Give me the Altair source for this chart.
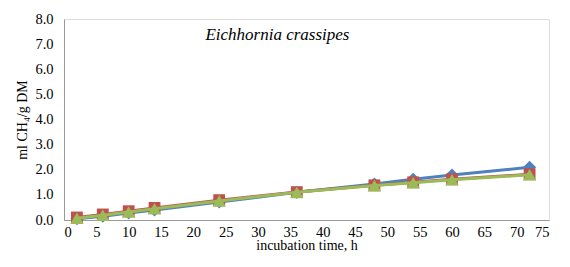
import altair as alt
import pandas as pd

times = [2, 6, 10, 14, 24, 36, 48, 54, 60, 72]
series_a = [0.05, 0.15, 0.28, 0.40, 0.72, 1.10, 1.43, 1.62, 1.79, 2.10]
series_b = [0.10, 0.22, 0.35, 0.48, 0.79, 1.11, 1.38, 1.50, 1.62, 1.82]
series_c = [0.07, 0.19, 0.32, 0.45, 0.76, 1.10, 1.37, 1.48, 1.60, 1.80]
names = ["A", "B", "C"]
colors = ["#4F81BD", "#C0504D", "#9BBB59"]
shapes = ["diamond", "square", "triangle-up"]

rows = []
for n, vals in zip(names, [series_a, series_b, series_c]):
    for t, v in zip(times, vals):
        rows.append({"t": t, "v": v, "s": n})
df = pd.DataFrame(rows)

font = "Liberation Serif"
xscale = alt.Scale(domain=[0, 75], nice=False)
yscale = alt.Scale(domain=[0, 8], nice=False)

xaxis = alt.Axis(title="incubation time, h", values=list(range(0, 80, 5)),
                 grid=False, ticks=False, domainColor="#999999",
                 labelOverlap=False, labelFont=font, titleFont=font, labelFontSize=14.5,
                 titleFontSize=14, titleFontWeight="normal",
                 labelColor="#000000", titleColor="#000000",
                 labelPadding=5, titlePadding=0)
yaxis = alt.Axis(title="ml CH₄/g DM", values=[0, 1, 2, 3, 4, 5, 6, 7, 8],
                 format=".1f", grid=False, ticks=False, domainColor="#999999",
                 labelOverlap=False, labelFont=font, titleFont=font, labelFontSize=14.5,
                 titleFontSize=14, titleFontWeight="normal",
                 labelColor="#000000", titleColor="#000000",
                 labelPadding=11, titlePadding=5)

X = alt.X("t:Q", scale=xscale, axis=xaxis)
Y = alt.Y("v:Q", scale=yscale, axis=yaxis)

layers = []
for n, c, sh, sz in zip(names, colors, shapes, [170, 140, 180]):
    base = alt.Chart(df[df.s == n])
    layers.append(base.mark_line(color=c, strokeWidth=3).encode(x=X, y=Y))
    layers.append(base.mark_point(shape=sh, filled=True, color=c, size=sz, opacity=1).encode(x=X, y=Y))

tdf = pd.DataFrame({"x": [33.0], "y": [7.37], "label": ["Eichhornia crassipes"]})
title = alt.Chart(tdf).mark_text(
    font=font, fontSize=17, fontStyle="italic", color="#000000", align="center", baseline="middle"
).encode(x=alt.X("x:Q", scale=xscale, axis=xaxis), y=alt.Y("y:Q", scale=yscale, axis=yaxis), text="label:N")
layers.append(title)

chart = alt.layer(*layers).properties(
    width=485, height=201,
    autosize=alt.AutoSizeParams(type="none"),
    padding={"left": 56, "top": 11, "right": 6, "bottom": 40},
).configure_view(stroke=None).configure(background="white", font=font)

chart.save("out.html", embed_options={"renderer": "svg", "actions": False})
